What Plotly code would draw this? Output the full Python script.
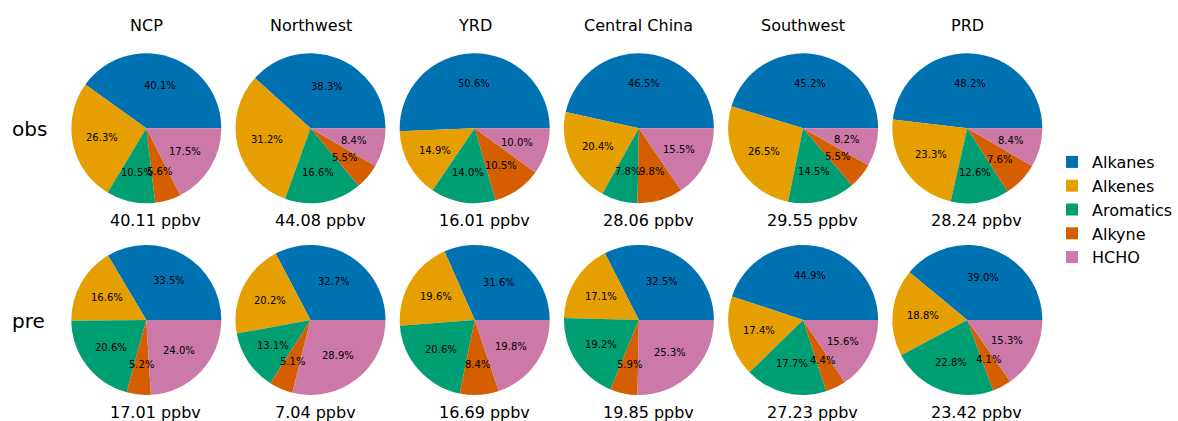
import math
import plotly.graph_objects as go

W, H = 1178, 421

regions = ["NCP", "Northwest", "YRD", "Central China", "Southwest", "PRD"]
categories = ["Alkanes", "Alkenes", "Aromatics", "Alkyne", "HCHO"]
colors = ["#0072B2", "#E69F00", "#009E73", "#D55E00", "#CC79A7"]
row_labels = ["obs", "pre"]

obs_ncp = [40.1, 26.3, 10.5, 5.6, 17.5]
obs_northwest = [38.3, 31.2, 16.6, 5.5, 8.4]
obs_yrd = [50.6, 14.9, 14.0, 10.5, 10.0]
obs_central = [46.5, 20.4, 7.8, 9.8, 15.5]
obs_southwest = [45.2, 26.5, 14.5, 5.5, 8.2]
obs_prd = [48.2, 23.3, 12.6, 7.6, 8.4]

pre_ncp = [33.5, 16.6, 20.6, 5.2, 24.0]
pre_northwest = [32.7, 20.2, 13.1, 5.1, 28.9]
pre_yrd = [31.6, 19.6, 20.6, 8.4, 19.8]
pre_central = [32.5, 17.1, 19.2, 5.9, 25.3]
pre_southwest = [44.9, 17.4, 17.7, 4.4, 15.6]
pre_prd = [39.0, 18.8, 22.8, 4.1, 15.3]

obs_totals = [40.11, 44.08, 16.01, 28.06, 29.55, 28.24]
pre_totals = [17.01, 7.04, 16.69, 19.85, 27.23, 23.42]

rows = [
    [obs_ncp, obs_northwest, obs_yrd, obs_central, obs_southwest, obs_prd],
    [pre_ncp, pre_northwest, pre_yrd, pre_central, pre_southwest, pre_prd],
]
totals = [obs_totals, pre_totals]

# layout geometry (pixels)
R = 75.0
cx0, dx = 146.3, 164.2
row_cy = [128.3, 320.0]

FONT = "DejaVu Sans"

fig = go.Figure()
annotations = []

for r, row in enumerate(rows):
    cy = row_cy[r]
    for c, vals in enumerate(row):
        cx = cx0 + c * dx
        total = sum(vals)
        # start the first wedge at 3 o'clock, going counterclockwise
        rot = 90.0 - 360.0 * vals[0] / total
        fig.add_trace(go.Pie(
            labels=categories,
            values=vals,
            marker=dict(colors=colors, line=dict(width=0)),
            sort=False,
            direction="counterclockwise",
            rotation=rot,
            textinfo="none",
            hoverinfo="label+percent",
            showlegend=(r == 0 and c == 0),
            domain=dict(x=[(cx - R) / W, (cx + R) / W],
                        y=[1 - (cy + R) / H, 1 - (cy - R) / H]),
        ))
        cum = 0.0
        for v in vals:
            ang = math.radians(360.0 * (cum + v / 2.0) / total)
            cum += v
            px = cx + 0.6 * R * math.cos(ang)
            py = cy - 0.6 * R * math.sin(ang)
            annotations.append(dict(
                x=px / W, y=1 - py / H, xref="paper", yref="paper",
                text=f"{100.0 * v / total:.1f}%", showarrow=False,
                xanchor="center", yanchor="middle",
                font=dict(family=FONT, size=10, color="black"),
            ))
        annotations.append(dict(
            x=(cx - 38) / W, y=1 - (cy + R + 17) / H, xref="paper", yref="paper",
            text=f"{totals[r][c]:.2f} ppbv", showarrow=False,
            xanchor="left", yanchor="middle",
            font=dict(family=FONT, size=16, color="black"),
        ))
        if r == 0:
            annotations.append(dict(
                x=cx / W, y=1 - 25.8 / H, xref="paper", yref="paper",
                text=regions[c], showarrow=False,
                xanchor="center", yanchor="middle",
                font=dict(family=FONT, size=16, color="black"),
            ))
    annotations.append(dict(
        x=10 / W, y=1 - (cy + 1) / H, xref="paper", yref="paper",
        text=row_labels[r], showarrow=False,
        xanchor="left", yanchor="middle",
        font=dict(family=FONT, size=20, color="black"),
    ))

fig.update_layout(
    width=W, height=H,
    margin=dict(l=0, r=0, t=0, b=0, autoexpand=False),
    paper_bgcolor="white", plot_bgcolor="white",
    annotations=annotations,
    font=dict(family=FONT, color="black"),
    legend=dict(
        x=1.0, y=1 - 145 / H, xanchor="right", yanchor="top",
        font=dict(family=FONT, size=16, color="black"),
        bgcolor="rgba(0,0,0,0)",
        traceorder="normal",
    ),
)

fig.write_html("out.html")
